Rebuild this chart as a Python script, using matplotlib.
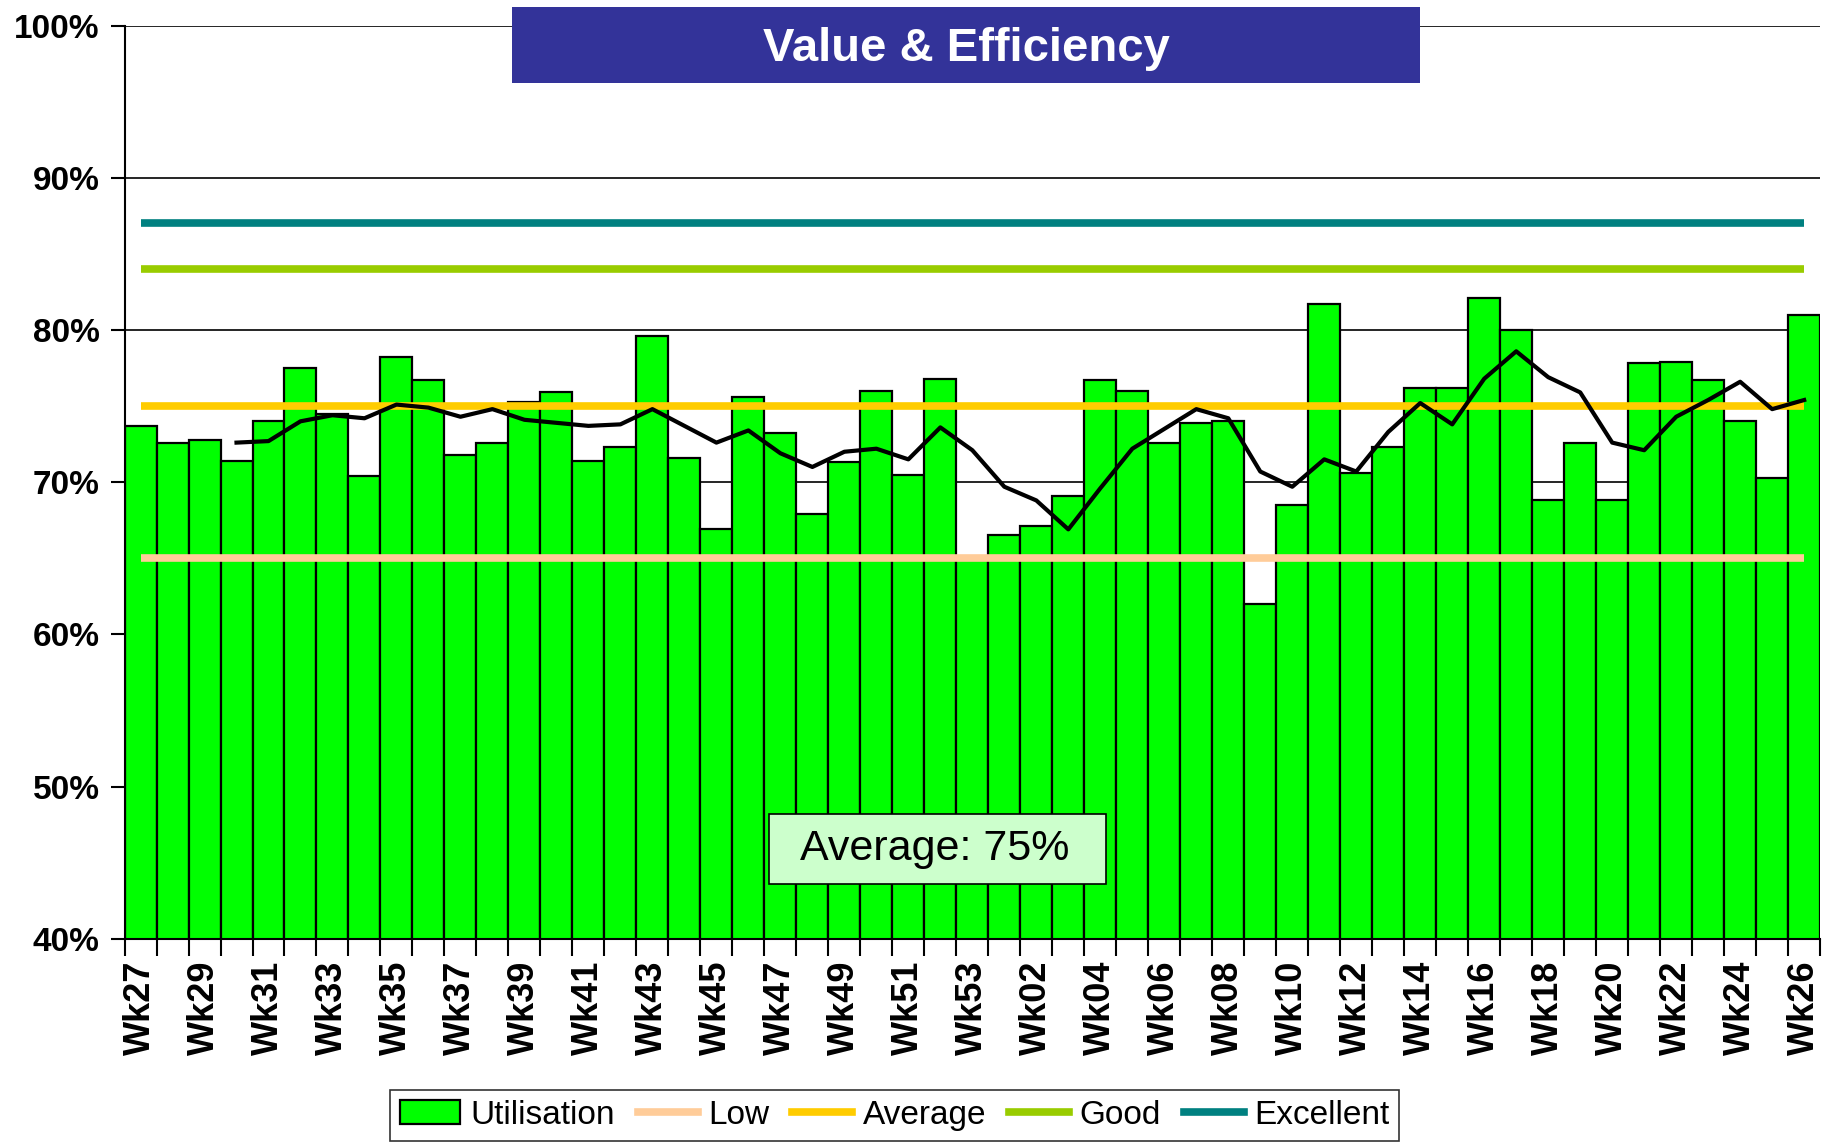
import numpy as np
import matplotlib
matplotlib.use("Agg")
import matplotlib.pyplot as plt
from matplotlib.patches import Rectangle, Patch
from matplotlib.lines import Line2D

plt.rcParams['font.family'] = ['Liberation Sans', 'DejaVu Sans']

# data
weeks = ['Wk27', 'Wk28', 'Wk29', 'Wk30', 'Wk31', 'Wk32', 'Wk33', 'Wk34', 'Wk35', 'Wk36',
         'Wk37', 'Wk38', 'Wk39', 'Wk40', 'Wk41', 'Wk42', 'Wk43', 'Wk44', 'Wk45', 'Wk46',
         'Wk47', 'Wk48', 'Wk49', 'Wk50', 'Wk51', 'Wk52', 'Wk53', 'Wk01', 'Wk02', 'Wk03',
         'Wk04', 'Wk05', 'Wk06', 'Wk07', 'Wk08', 'Wk09', 'Wk10', 'Wk11', 'Wk12', 'Wk13',
         'Wk14', 'Wk15', 'Wk16', 'Wk17', 'Wk18', 'Wk19', 'Wk20', 'Wk21', 'Wk22', 'Wk23',
         'Wk24', 'Wk25', 'Wk26']

utilisation = [73.7, 72.6, 72.8, 71.4, 74.0, 77.5, 74.5, 70.4, 78.2, 76.7,
               71.8, 72.6, 75.3, 75.9, 71.4, 72.3, 79.6, 71.6, 66.9, 75.6,
               73.2, 67.9, 71.3, 76.0, 70.5, 76.8, 65.0, 66.5, 67.1, 69.1,
               76.7, 76.0, 72.6, 73.9, 74.0, 62.0, 68.5, 81.7, 70.6, 72.3,
               76.2, 76.2, 82.1, 80.0, 68.8, 72.6, 68.8, 77.8, 77.9, 76.7,
               74.0, 70.3, 81.0]

trend = [np.nan, np.nan, np.nan, 72.6, 72.7, 74.0, 74.4, 74.2, 75.1, 74.9,
         74.3, 74.8, 74.1, 73.9, 73.7, 73.8, 74.8, 73.7, 72.6, 73.4,
         71.9, 71.0, 72.0, 72.2, 71.5, 73.6, 72.1, 69.7, 68.8, 66.9,
         69.6, 72.2, 73.5, 74.8, 74.2, 70.7, 69.7, 71.5, 70.7, 73.3,
         75.2, 73.8, 76.8, 78.6, 76.9, 75.9, 72.6, 72.1, 74.3, 75.4,
         76.6, 74.8, 75.4]

targets = ['Low', 'Average', 'Good', 'Excellent']
target_values = [65, 75, 84, 87]
target_colors = ['#ffcc99', '#ffcc00', '#99cc00', '#008080']

x = np.arange(len(weeks))

fig = plt.figure(figsize=(18.26, 11.46), dpi=100)
ax = fig.add_axes([0.0682, 0.1809, 0.9286, 0.7967])

ax.bar(x, utilisation, width=1.0, color='#00ff00', edgecolor='black',
       linewidth=1.6, zorder=2)

for val, col in zip(target_values, target_colors):
    ax.plot([x[0], x[-1]], [val, val], color=col, linewidth=5.5, zorder=3,
            solid_capstyle='butt')

ax.plot(x, trend, color='black', linewidth=3, zorder=4)

ax.set_ylim(40, 100)
ax.set_xlim(-0.5, len(weeks) - 0.5)
ax.set_yticks(range(40, 101, 10))
ax.set_yticklabels([f"{v}%" for v in range(40, 101, 10)], fontsize=24, fontweight='bold')
ax.yaxis.grid(True, color='black', linewidth=1.2, zorder=1)
ax.set_axisbelow(True)

ax.set_xticks(x[::2])
ax.set_xticklabels(weeks[::2], rotation=90, fontsize=26, fontweight='bold')
ax.set_xticks(np.arange(-0.5, len(weeks), 1.0), minor=True)
ax.tick_params(axis='x', which='major', length=0, pad=16)
ax.tick_params(axis='x', which='minor', length=12, width=1.5)
ax.tick_params(axis='y', length=10, width=1.5, pad=8)

for s in ['top', 'right']:
    ax.spines[s].set_visible(False)
for s in ['left', 'bottom']:
    ax.spines[s].set_linewidth(1.5)

# average annotation
ax.add_patch(Rectangle((0.38, 43.6), 0.199, 4.6, transform=ax.get_yaxis_transform(),
                       facecolor='#ccffcc', edgecolor='black', linewidth=1.2, zorder=6))
ax.text(0.478, 45.9, 'Average: 75%', transform=ax.get_yaxis_transform(),
        fontsize=31, ha='center', va='center', zorder=7)

# title box
fig.patches.append(Rectangle((0.2806, 0.9278), 0.4968, 0.0661, transform=fig.transFigure,
                             facecolor='#333399', edgecolor='none', zorder=10))
fig.text(0.529, 0.9575, 'Value & Efficiency', color='white', fontsize=34,
         fontweight='bold', ha='center', va='center', zorder=11)

handles = [Patch(facecolor='#00ff00', edgecolor='black', linewidth=1.6, label='Utilisation')]
for name, col in zip(targets, target_colors):
    handles.append(Line2D([0], [0], color=col, linewidth=5.5, label=name))
leg = fig.legend(handles=handles, loc='center', bbox_to_anchor=(0.49, 0.027), ncol=5,
                 fontsize=24, frameon=True, fancybox=False, edgecolor='black',
                 handlelength=1.8, handletextpad=0.3, columnspacing=0.7, borderpad=0.3)
leg.get_frame().set_linewidth(1.2)

fig.savefig('out.png', dpi=100)
